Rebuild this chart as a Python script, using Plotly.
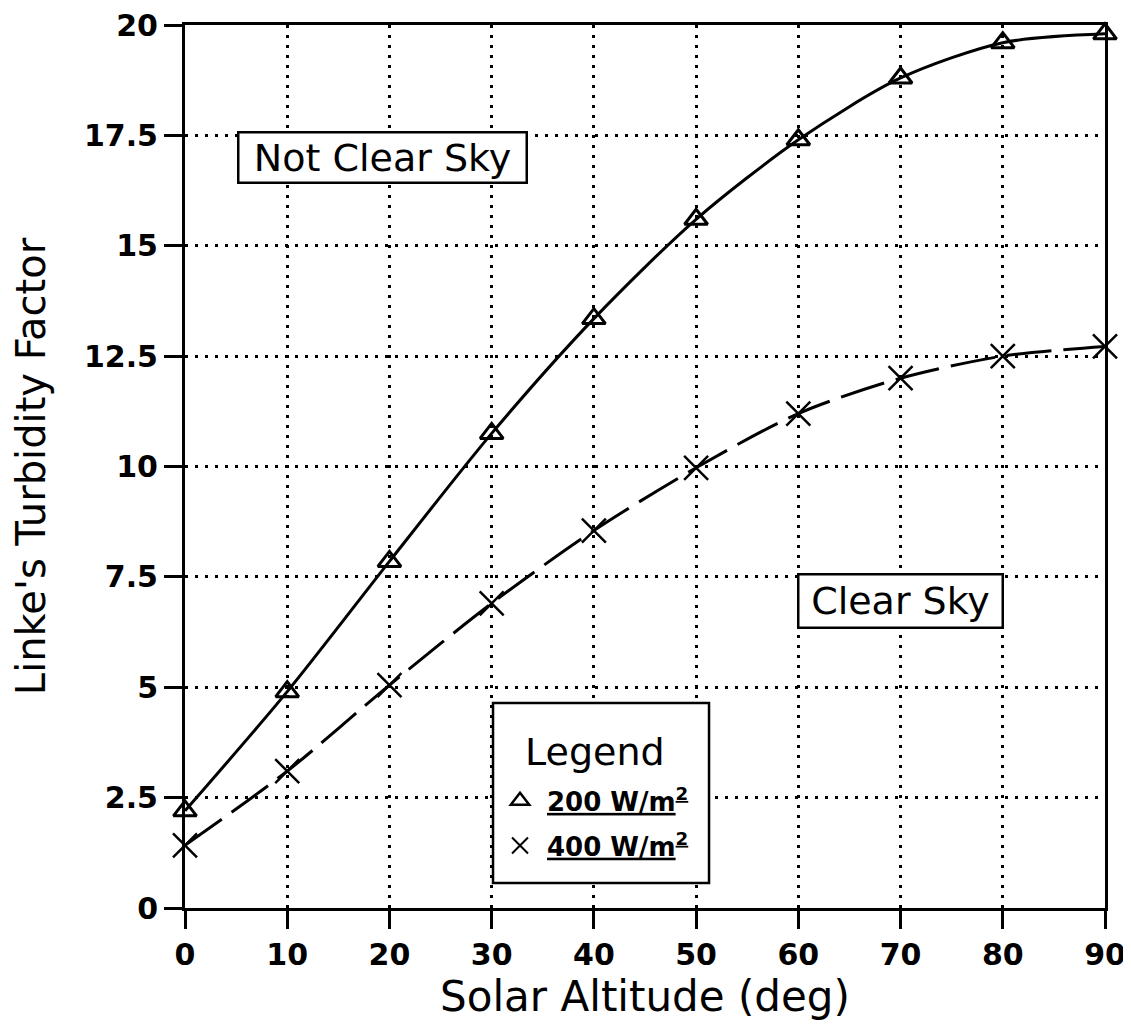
import plotly.graph_objects as go

altitude = [0, 10, 20, 30, 40, 50, 60, 70, 80, 90]
turbidity_200 = [2.2, 4.9, 7.85, 10.75, 13.35, 15.6, 17.4, 18.8, 19.6, 19.8]
turbidity_400 = [1.42, 3.1, 5.05, 6.9, 8.55, 9.97, 11.2, 12.0, 12.5, 12.72]

x_tick_vals = [0, 10, 20, 30, 40, 50, 60, 70, 80, 90]
y_tick_vals = [0, 2.5, 5, 7.5, 10, 12.5, 15, 17.5, 20]
y_tick_text = ["0", "2.5", "5", "7.5", "10", "12.5", "15", "17.5", "20"]

series_names = ["200 W/m<sup>2</sup>", "400 W/m<sup>2</sup>"]

FONT = "DejaVu Sans"

fig = go.Figure()

# curves
fig.add_trace(go.Scatter(
    x=altitude, y=turbidity_200, mode="lines+markers",
    line=dict(color="black", width=3, shape="spline", smoothing=0.8),
    marker=dict(symbol="triangle-up-open", size=20, color="black",
                line=dict(width=3, color="black")),
    cliponaxis=False, showlegend=False))
fig.add_trace(go.Scatter(
    x=altitude, y=turbidity_400, mode="lines+markers",
    line=dict(color="black", width=3, shape="spline", smoothing=0.8,
              dash="45px,12px"),
    marker=dict(symbol="x-thin-open", size=24, color="black",
                line=dict(width=2.5, color="black")),
    cliponaxis=False, showlegend=False))

# legend-only entries (marker symbols only, as in the original)
fig.add_trace(go.Scatter(
    x=[None], y=[None], mode="markers", name=series_names[0],
    legendgroup="a",
    marker=dict(symbol="triangle-up-open", size=18, color="black",
                line=dict(width=2.5, color="black"))))
fig.add_trace(go.Scatter(
    x=[None], y=[None], mode="markers", name=series_names[1],
    legendgroup="b",
    marker=dict(symbol="x-thin-open", size=18, color="black",
                line=dict(width=2, color="black"))))

# sky-condition labels
fig.add_annotation(
    x=19.3, y=17.0, xref="x", yref="y", text="Not Clear Sky",
    showarrow=False, font=dict(family=FONT, size=38, color="black"),
    bgcolor="white", bordercolor="black", borderwidth=2.5, borderpad=2,
    width=282, height=44)
fig.add_annotation(
    x=70.04, y=6.96, xref="x", yref="y", text="Clear Sky",
    showarrow=False, font=dict(family=FONT, size=38, color="black"),
    bgcolor="white", bordercolor="black", borderwidth=2.5, borderpad=2,
    width=198, height=47)

# legend frame and heading
fig.add_shape(type="rect", xref="paper", yref="paper",
              x0=0.3348, x1=0.5696, y0=0.0283, y1=0.2322,
              line=dict(color="black", width=2.5), fillcolor="white",
              layer="above")
fig.add_annotation(
    x=0.4457, y=0.177, xref="paper", yref="paper", text="Legend",
    xanchor="center", yanchor="middle",
    showarrow=False, font=dict(family=FONT, size=38, color="black"))

axis_common = dict(
    showline=True, linecolor="black", linewidth=3, mirror=True,
    ticks="outside", ticklen=18, tickwidth=3, tickcolor="black",
    showgrid=True, gridcolor="black", gridwidth=3, griddash="3px,7px",
    zeroline=False, automargin=False, ticklabeloverflow="allow",
    tickfont=dict(family=FONT, size=30, color="black", weight="bold"),
)

fig.update_xaxes(
    range=[0, 90], tickvals=x_tick_vals,
    title=dict(text="Solar Altitude (deg)", standoff=0,
               font=dict(family=FONT, size=42, color="black")),
    **axis_common)
fig.update_yaxes(
    range=[0, 20], tickvals=y_tick_vals, ticktext=y_tick_text,
    title=dict(text="Linke's Turbidity Factor", standoff=30,
               font=dict(family=FONT, size=40, color="black")),
    **axis_common)

fig.update_layout(
    width=1123, height=1021,
    margin=dict(l=177, r=26, t=17, b=121, autoexpand=False),
    paper_bgcolor="white", plot_bgcolor="white",
    legend=dict(
        x=0.3348, y=0.148, xanchor="left", yanchor="top",
        bgcolor="rgba(0,0,0,0)", borderwidth=0,
        font=dict(family=FONT, size=26, color="black", weight="bold",
                  lineposition="under"),
        tracegroupgap=8, itemwidth=44,
    ),
)

fig.write_html("out.html")
